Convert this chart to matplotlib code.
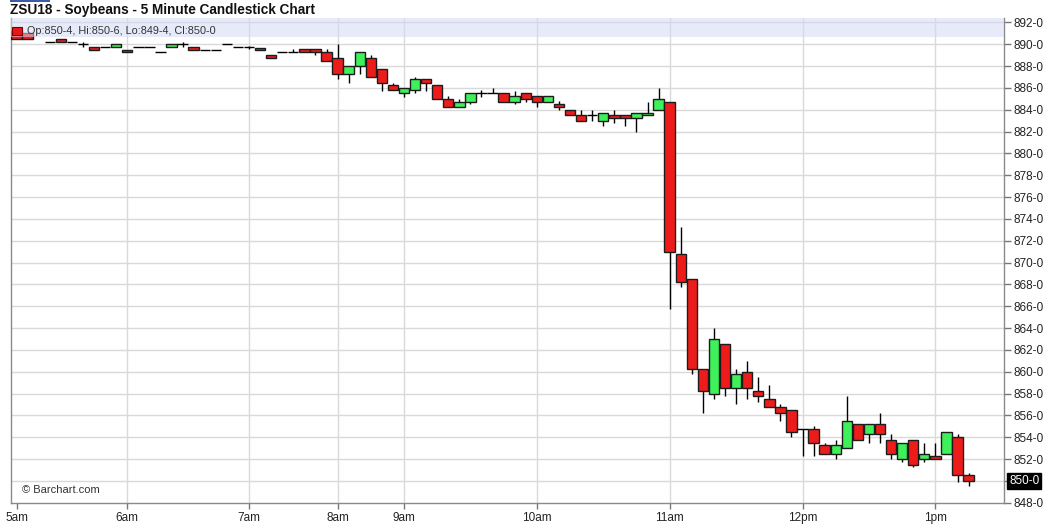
import numpy as np
import matplotlib
matplotlib.use('Agg')
import matplotlib.pyplot as plt
from matplotlib.patches import Rectangle
from matplotlib import font_manager

names = {f.name for f in font_manager.fontManager.ttflist}
narrow = 'Liberation Sans Narrow' if 'Liberation Sans Narrow' in names else 'Liberation Sans'
plt.rcParams['font.family'] = [narrow, 'DejaVu Sans']

nan = np.nan
# 5-minute bars, index 0 = 5:00am
opens = [891.25, 891.0, nan, 890.25, 890.5, 890.25, 890.0, 889.75, 889.75, 889.75,
         889.5, 889.75, 889.75, 889.25, 889.75, 890.0, 889.75, 889.5, 889.5, 890.0,
         889.75, 889.75, 889.7, 889.0, 889.25, 889.25, 889.55, 889.55, 889.25, 888.75,
         887.25, 888.0, 888.75, 887.75, 886.25, 885.5, 885.8, 886.8, 886.25, 885.0,
         884.25, 884.75, 885.5, 885.5, 885.5, 884.75, 885.5, 885.25, 884.75, 884.5,
         884.0, 883.5, 883.5, 883.0, 883.5, 883.5, 883.25, 883.5, 884.0, 884.75,
         870.75, 868.5, 860.25, 858.0, 862.5, 858.5, 860.0, 858.25, 857.5, 856.75,
         856.5, 854.75, 854.75, 853.25, 852.5, 853.0, 855.25, 854.25, 855.25, 853.75,
         852.0, 853.75, 852.0, 852.25, 852.5, 854.0, 850.5]
highs = [891.25, 891.0, nan, 890.25, 890.5, 890.25, 890.25, 889.75, 889.75, 890.0,
         889.5, 889.75, 889.75, 889.25, 890.0, 890.25, 889.75, 889.5, 889.5, 890.0,
         889.75, 889.85, 889.7, 889.0, 889.25, 889.55, 889.55, 889.55, 889.55, 890.0,
         888.0, 889.25, 889.0, 887.75, 886.5, 886.0, 887.0, 886.8, 886.25, 885.25,
         885.0, 885.5, 885.8, 886.0, 885.5, 885.75, 885.5, 885.25, 885.25, 884.8,
         884.0, 884.0, 884.0, 883.75, 884.0, 883.5, 883.75, 884.75, 886.0, 884.75,
         873.25, 868.5, 860.25, 864.0, 862.5, 860.25, 861.0, 859.5, 858.75, 857.0,
         856.5, 854.75, 855.0, 853.5, 853.75, 857.75, 855.25, 855.25, 856.25, 854.25,
         853.5, 853.75, 853.5, 853.5, 854.5, 854.25, 850.75]
lows = [890.5, 890.5, nan, 890.25, 890.25, 890.25, 889.75, 889.5, 889.75, 889.75,
        889.25, 889.75, 889.75, 889.25, 889.75, 889.75, 889.5, 889.5, 889.5, 890.0,
        889.75, 889.55, 889.5, 888.7, 889.25, 889.25, 889.25, 889.0, 888.5, 886.8,
        886.5, 887.3, 887.0, 885.75, 885.8, 885.2, 885.5, 885.75, 885.0, 884.25,
        884.25, 884.5, 885.2, 885.5, 884.75, 884.5, 884.75, 884.25, 884.75, 884.0,
        883.5, 883.0, 883.0, 882.5, 882.75, 882.5, 882.0, 883.5, 884.0, 865.75,
        867.75, 859.75, 856.25, 857.5, 857.75, 857.0, 857.5, 857.25, 856.75, 855.5,
        854.0, 852.25, 852.25, 852.5, 852.0, 853.0, 853.75, 853.5, 853.5, 852.0,
        851.75, 851.25, 851.75, 852.0, 852.5, 849.9, 849.5]
closes = [890.5, 890.5, nan, 890.25, 890.25, 890.25, 890.0, 889.5, 889.75, 890.0,
          889.25, 889.75, 889.75, 889.25, 890.0, 890.0, 889.5, 889.5, 889.5, 890.0,
          889.75, 889.75, 889.5, 888.7, 889.25, 889.25, 889.25, 889.25, 888.5, 887.25,
          888.0, 889.25, 887.0, 886.5, 885.8, 886.0, 886.8, 886.5, 885.0, 884.25,
          884.75, 885.5, 885.5, 885.5, 884.75, 885.25, 885.0, 884.75, 885.25, 884.25,
          883.5, 883.0, 883.5, 883.75, 883.25, 883.25, 883.75, 883.75, 885.0, 871.0,
          868.25, 860.25, 858.25, 863.0, 858.5, 859.75, 858.5, 857.75, 856.75, 856.25,
          854.5, 854.75, 853.5, 852.5, 853.25, 855.5, 853.75, 855.25, 854.25, 852.5,
          853.5, 851.5, 852.5, 852.0, 854.5, 850.5, 850.0]

tick_idx = [0, 10, 21, 29, 35, 47, 59, 71, 83]
tick_labels = ['5am', '6am', '7am', '8am', '9am', '10am', '11am', '12pm', '1pm']
price_ticks = list(range(848, 893, 2))
title = 'ZSU18 - Soybeans - 5 Minute Candlestick Chart'
legend_text = 'Op:850-4, Hi:850-6, Lo:849-4, Cl:850-0'
last_label = '850-0'

W, H = 1050, 530
fig = plt.figure(figsize=(10.5, 5.3), dpi=100)
left_px, right_px, top_px, bot_px = 11, 1004, 18, 502.7
ax = fig.add_axes([left_px / W, 1 - bot_px / H, (right_px - left_px) / W, (bot_px - top_px) / H])

GREEN = '#3ef05a'
RED = '#ee1b1b'
EDGE = '#1c1c1c'
w = 0.94

for i, (o, h, l, c) in enumerate(zip(opens, highs, lows, closes)):
    if np.isnan(o):
        continue
    ax.vlines(i, l, h, color='black', lw=1.0, zorder=3)
    if abs(c - o) < 0.05:
        ax.hlines(o, i - w / 2, i + w / 2, color='black', lw=1.0, zorder=4)
    else:
        ax.add_patch(Rectangle((i - w / 2, min(o, c)), w, abs(c - o),
                               facecolor=GREEN if c > o else RED,
                               edgecolor=EDGE, lw=1.0, zorder=4))

ax.set_xlim(-0.5, 89.2)
ax.set_ylim(848, 892.41)

# grid
for p in price_ticks[1:]:
    ax.axhline(p, color='#d9d9d9', lw=1, zorder=1)
for t in tick_idx[1:]:
    ax.axvline(t, color='#d9d9d9', lw=1, zorder=1)

ax.set_xticks(tick_idx)
ax.set_xticklabels(tick_labels)
ax.yaxis.tick_right()
ax.set_yticks(price_ticks)
ax.set_yticklabels(['' if p == 850 else f'{p}-0' for p in price_ticks])
ax.tick_params(axis='y', direction='out', length=5, width=1, color='#777777',
               labelsize=8.5, labelcolor='#222222', pad=2)
ax.tick_params(axis='x', direction='out', length=4, width=1, color='#777777',
               labelsize=8.5, labelcolor='#222222', pad=3)
for s in ['left', 'bottom', 'right']:
    ax.spines[s].set_color('#8a8a8a')
    ax.spines[s].set_linewidth(1)
ax.spines['top'].set_visible(False)

# legend band (semi-transparent overlay)
band_bottom = (bot_px - 37) / (bot_px - top_px)
ax.add_patch(Rectangle((0, band_bottom), 1, 1 - band_bottom, transform=ax.transAxes,
                       facecolor='#d3d9f5', alpha=0.55, edgecolor='none', zorder=6))
fig.patches.append(Rectangle((12 / W, 1 - 35 / H), 10 / W, 8 / H, transform=fig.transFigure,
                             facecolor='#e81818', edgecolor='#7a0000', lw=0.8, zorder=7))
fig.text(27 / W, 1 - 31 / H, legend_text, fontsize=7.8, color='#333333', va='center', ha='left',
         zorder=8)

# last price box
ax.text(1 + 5 / (right_px - left_px), 850, last_label, transform=ax.get_yaxis_transform(),
        fontsize=8.5, color='white', va='center', ha='left', zorder=10,
        bbox=dict(boxstyle='square,pad=0.15', facecolor='black', edgecolor='black'),
        clip_on=False)

# title and small header mark
fig.patches.append(Rectangle((10 / W, 1 - 2 / H), 40 / W, 2 / H, transform=fig.transFigure,
                             facecolor='#3a5ca8', edgecolor='none'))
fig.text(10 / W, 1 - 10 / H, title, fontsize=9.8, fontweight='bold', color='#111111',
         va='center', ha='left')

ax.text(22 / W, 1 - 490 / H, '\u00a9 Barchart.com', transform=fig.transFigure,
        fontsize=8, color='#333333', va='center', ha='left')

fig.savefig('out.png', dpi=100, facecolor='white')
